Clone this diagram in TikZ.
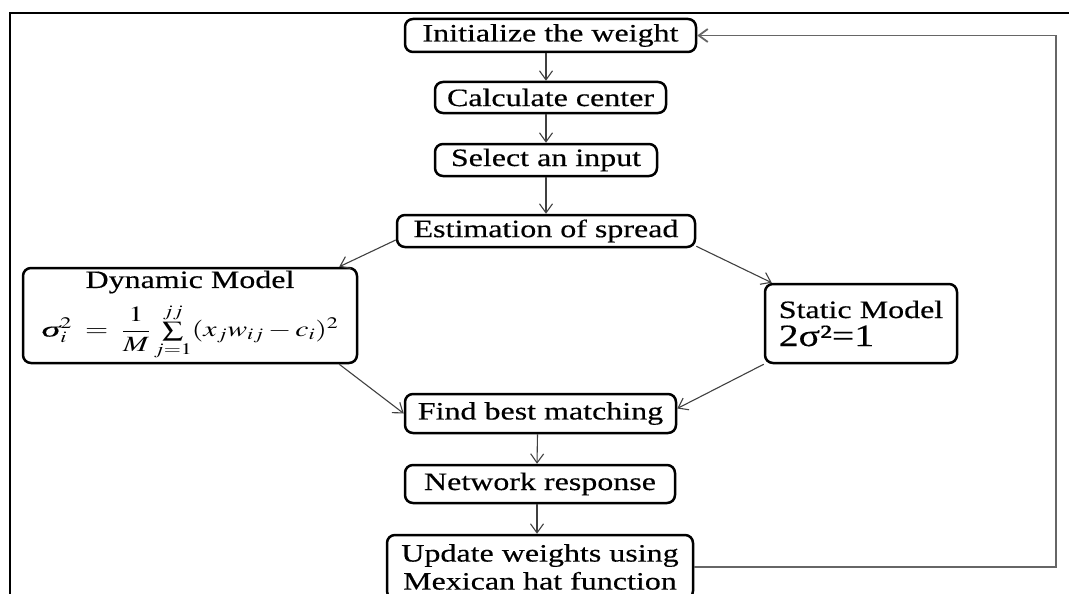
\documentclass[tikz,border=0pt]{standalone}
\usepackage{graphicx}
\usepackage{amsmath}
\usepackage{mathptmx}
\usepackage{fontspec}
\setmainfont{Liberation Serif}[FakeStretch=1.28,FakeBold=0.4]
\usetikzlibrary{calc,arrows.meta}

\tikzset{
  box/.style={draw, line width=2.5pt, rounded corners=8pt, inner sep=0pt,
    font=\fontsize{25}{28}\selectfont},
  flow/.style={draw=black!75, line width=1.1pt, -{Straight Barb[length=9pt,width=13pt]}},
  back/.style={draw=black!60, line width=1.8pt, -{Straight Barb[length=9pt,width=13pt]}}
}

\begin{document}
\begin{tikzpicture}[x=1pt,y=-1pt]
  \useasboundingbox (0,0) rectangle (1069,594);
  \draw[line width=2.5pt] (10,594) -- (10,13) -- (1069,13); % frame

  \node[box, minimum width=291, minimum height=33] (init) at (550.5,35.5) {Initialize the weight};
  \node[box, minimum width=231, minimum height=31] (calc) at (550.5,97.5) {Calculate center};
  \node[box, minimum width=222, minimum height=32] (sel) at (546,160) {Select an input};
  \node[box, minimum width=298, minimum height=32] (est) at (546,231) {Estimation of spread};
  \node[box, minimum width=334, minimum height=95, align=center] (dyn) at (190,315.5)
    {Dynamic Model\\[9pt]
     {\fontsize{25}{25}\selectfont\resizebox*{297pt}{57pt}{$\textit{σ}_i^2 \;=\; \dfrac{1}{M}\sum\limits_{j=1}^{jj}(x_j w_{ij}-c_i)^2$}}};
  \node[box, minimum width=192, minimum height=79, align=left] (stat) at (861,323.5)
    {Static Model\\{\fontsize{31}{31}\selectfont 2σ²=1}};
  \node[box, minimum width=271, minimum height=39] (find) at (540.5,413.5) {Find best matching};
  \node[box, minimum width=270, minimum height=38] (net) at (540,484) {Network response};
  \node[box, minimum width=306, minimum height=64, align=center] (upd) at (540,567)
    {Update weights using\\Mexican hat function};

  \coordinate (turn) at (1056,0);

  \draw[flow] ([xshift=-4.5pt]init.south) -- ([xshift=-4.5pt]calc.north);
  \draw[flow] ([xshift=-4.5pt]calc.south) -- (sel.north);
  \draw[flow] (sel.south) -- (est.north);
  \draw[flow] ([yshift=-9pt]est.west) -- ([xshift=-19pt]dyn.north east);
  \draw[flow] ([yshift=2pt]est.south east) -- ([xshift=8pt]stat.north west);
  \draw[flow] ([xshift=-19pt]dyn.south east) -- (find.west);
  \draw[flow] (stat.south west) -- ([yshift=5pt]find.east);
  \draw[flow] ([xshift=-3pt]find.south) -- ([xshift=-3pt]net.north);
  \draw[flow] ([xshift=-3pt]net.south) -- ([xshift=-3pt]upd.north);
  % back to the start
  \draw[back] (upd.east) -| (turn |- init.east) -- (init.east);
\end{tikzpicture}
\end{document}
